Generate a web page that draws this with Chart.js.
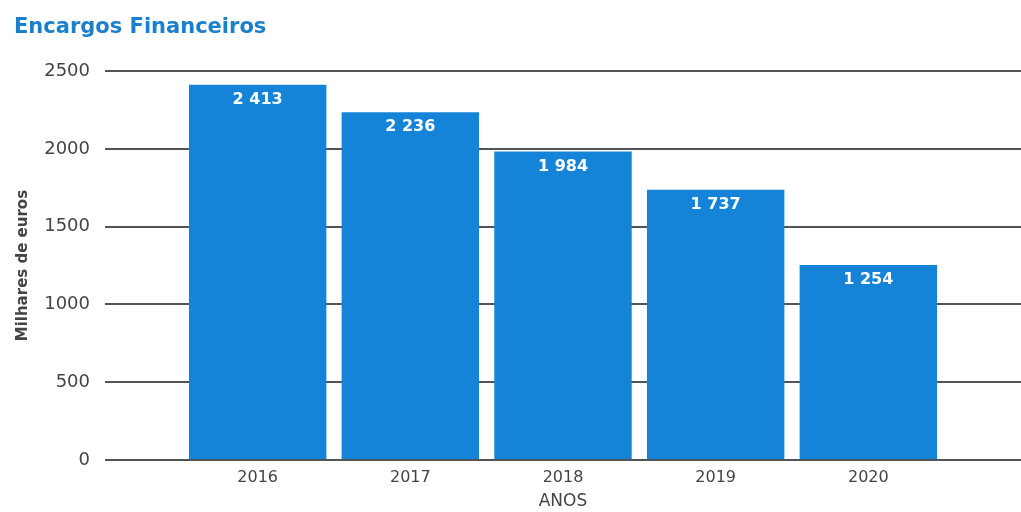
<!DOCTYPE html>
<html>
<head>
<meta charset="utf-8">
<script src="https://cdn.jsdelivr.net/npm/chart.js@4"></script>
<style>
  html, body { margin: 0; padding: 0; background: #fff; }
  #wrap { width: 1021px; height: 512px; }
</style>
</head>
<body>
<div id="wrap"><canvas id="encargosChart"></canvas></div>
<script>
const categories = ['2016', '2017', '2018', '2019', '2020'];
const values = [2413, 2236, 1984, 1737, 1254];
const yTicks = [0, 500, 1000, 1500, 2000, 2500];

const FONT = '"DejaVu Sans", sans-serif';

const fmt = (v) => String(v).replace(/\B(?=(\d{3})+(?!\d))/g, ' ');

// white value labels inside the top of each bar
const barLabels = {
  id: 'barLabels',
  afterDatasetsDraw(chart) {
    const ctx = chart.ctx;
    const meta = chart.getDatasetMeta(0);
    ctx.save();
    ctx.fillStyle = '#ffffff';
    ctx.font = `bold 16px ${FONT}`;
    ctx.textAlign = 'center';
    ctx.textBaseline = 'middle';
    meta.data.forEach((bar, i) => {
      ctx.fillText(fmt(values[i]), bar.x, bar.y + 15);
    });
    ctx.restore();
  }
};

const ctx = document.getElementById('encargosChart').getContext('2d');

new Chart(ctx, {
  type: 'bar',
  data: {
    datasets: [{
      label: 'Encargos Financeiros',
      data: values.map((v, i) => ({ x: Number(categories[i]), y: v })),
      backgroundColor: '#1584d8',
      borderWidth: 0,
      barPercentage: 0.9,
      categoryPercentage: 1
    }]
  },
  options: {
    responsive: true,
    maintainAspectRatio: false,
    animation: false,
    layout: { padding: { left: 14, right: 0, top: 0, bottom: 0 } },
    plugins: {
      legend: { display: false },
      tooltip: { enabled: false },
      title: {
        display: true,
        text: 'Encargos Financeiros',
        align: 'start',
        color: '#1a80cc',
        font: { family: FONT, size: 21, weight: 'bold' },
        padding: { top: 15, bottom: 31 }
      }
    },
    scales: {
      x: {
        type: 'linear',
        offset: false,
        min: Number(categories[0]) - 1,
        max: Number(categories[categories.length - 1]) + 1,
        afterBuildTicks: (scale) => {
          scale.ticks = categories.map(c => ({ value: Number(c) }));
        },
        afterFit: (scale) => { scale.height = 52; },
        ticks: {
          color: '#444',
          font: { family: FONT, size: 16 },
          padding: 0,
          maxRotation: 0,
          callback: (v) => String(v)
        },
        grid: { display: false },
        border: { display: false },
        title: {
          display: true,
          text: 'ANOS',
          color: '#444',
          font: { family: FONT, size: 17 },
          padding: { top: 10, bottom: 0 }
        }
      },
      y: {
        min: 0,
        max: 2500,
        afterBuildTicks: (scale) => {
          scale.ticks = yTicks.map(v => ({ value: v }));
        },
        afterFit: (scale) => { scale.width = 91; },
        ticks: {
          color: '#444',
          font: { family: FONT, size: 18 },
          padding: 15,
          callback: (v) => String(v)
        },
        grid: {
          color: '#4f5558',
          lineWidth: 2,
          drawTicks: false
        },
        border: { display: false },
        title: {
          display: true,
          text: 'Milhares de euros',
          color: '#444',
          font: { family: FONT, size: 15, weight: 'bold' },
          padding: { top: 0, bottom: 0 }
        }
      }
    }
  },
  plugins: [barLabels]
});
</script>
</body>
</html>
